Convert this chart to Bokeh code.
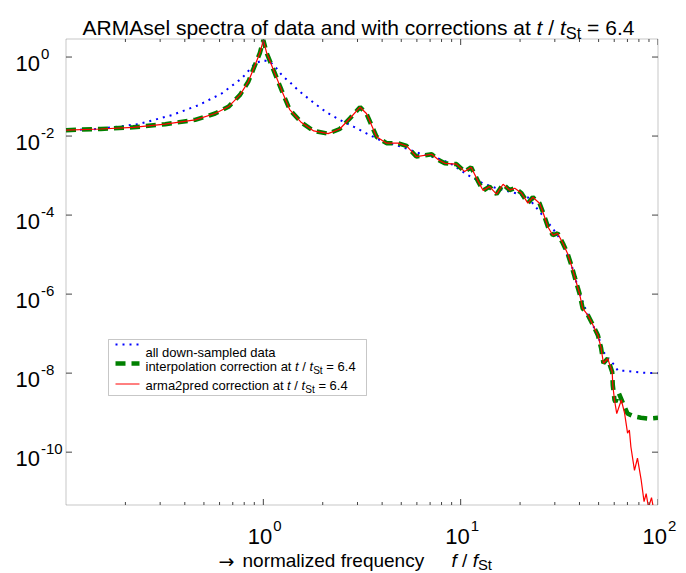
import math
from bokeh.plotting import figure
from bokeh.models import Range1d, Label, BoxAnnotation
from bokeh.embed import file_html
from bokeh.resources import INLINE

# ---------------- data ----------------
freq_blue = [0.10, 0.146, 0.233, 0.344, 0.469, 0.616, 0.777, 0.908, 1.00, 1.08,
             1.15, 1.26, 1.34, 1.50, 1.79, 2.09, 2.44, 2.86, 3.33, 3.89,
             4.55, 5.00, 6.20, 7.54, 8.80, 10.9, 13.0, 15.2, 19.2, 21.9,
             26.7, 30.5, 33.0, 36.5, 40.0, 44.1, 49.6, 52.0, 53.5, 55.6,
             58.0, 60.2, 62.6, 67.6, 76.0, 85.5, 100.0]
psd_blue = [1.41e-2, 1.51e-2, 2.00e-2, 3.39e-2, 6.03e-2, 0.120, 0.288, 0.692, 0.832, 0.759,
            0.562, 0.316, 0.251, 0.145, 7.08e-2, 3.98e-2, 2.57e-2, 1.74e-2, 1.17e-2, 7.94e-3,
            6.17e-3, 5.37e-3, 3.63e-3, 2.82e-3, 2.09e-3, 1.02e-3, 6.31e-4, 4.79e-4, 3.55e-4, 2.82e-4,
            8.32e-5, 3.47e-5, 1.91e-5, 5.37e-6, 1.05e-6, 2.95e-7, 9.12e-8, 4.47e-8, 3.16e-8, 2.34e-8,
            1.95e-8, 1.58e-8, 1.15e-8, 1.15e-8, 1.07e-8, 1.02e-8, 1.00e-8]

# part shared by both corrected spectra (up to f/fSt ~ 60)
freq_corr = [0.10, 0.15, 0.219, 0.318, 0.451, 0.570, 0.665, 0.762, 0.840, 0.908,
             0.960, 1.00, 1.04, 1.10, 1.24, 1.36, 1.56, 1.80, 2.13, 2.44,
             2.75, 3.09, 3.33, 3.75, 4.21, 4.82, 5.32, 5.96, 7.13, 7.77,
             8.31, 9.52, 10.48, 11.3, 12.3, 13.0, 14.0, 15.2, 16.4, 17.7,
             18.8, 20.3, 21.9, 23.2, 25.1, 26.1, 27.7, 29.3, 31.0, 33.0,
             34.8, 36.5, 37.8, 40.0, 41.5, 44.1, 46.8, 49.6, 51.5, 52.9,
             55.6, 58.6, 59.0, 60.2]
psd_corr = [1.41e-2, 1.51e-2, 1.66e-2, 2.00e-2, 2.57e-2, 3.72e-2, 5.50e-2, 0.110, 0.240, 0.631,
            1.26, 2.69, 1.26, 0.631, 0.141, 4.68e-2, 2.19e-2, 1.35e-2, 1.15e-2, 1.51e-2,
            2.82e-2, 5.37e-2, 3.72e-2, 9.55e-3, 6.61e-3, 6.61e-3, 5.62e-3, 3.02e-3, 3.47e-3, 2.45e-3,
            2.04e-3, 1.95e-3, 1.26e-3, 1.62e-3, 6.92e-4, 4.17e-4, 5.25e-4, 3.39e-4, 6.03e-4, 4.27e-4,
            4.79e-4, 3.63e-4, 2.00e-4, 2.82e-4, 2.00e-4, 1.20e-4, 5.01e-5, 3.09e-5, 3.47e-5, 1.91e-5,
            1.07e-5, 5.13e-6, 2.75e-6, 1.05e-6, 4.37e-7, 2.95e-7, 1.66e-7, 9.12e-8, 4.27e-8, 1.78e-8,
            2.34e-8, 1.07e-8, 5.01e-9, 2.09e-9]

freq_interp_tail = [60.9, 63.3, 66.6, 70.0, 75.0, 82.0, 90.0, 100.0]
psd_interp_tail = [1.86e-9, 3.09e-9, 1.70e-9, 9.55e-10, 8.13e-10, 7.41e-10, 7.08e-10, 7.41e-10]

freq_arma_tail = [61.8, 65.2, 67.7, 70.1, 71.6, 72.9, 76.0, 78.7, 82.2, 85.0,
                  87.1, 89.5, 92.7, 95.5, 100.0]
psd_arma_tail = [9.5e-10, 2.09e-9, 9.77e-10, 3.02e-10, 3.63e-10, 1.35e-10, 3.47e-11, 7.08e-11, 1.95e-11, 5.62e-12,
                 8.91e-12, 3.98e-12, 7.08e-12, 3.16e-12, 1.58e-12]

x_major_ticks = [1.0, 10.0, 100.0]
x_tick_exponents = ["0", "1", "2"]
x_minor_ticks = [0.2, 0.3, 0.4, 0.5, 0.6, 0.7, 0.8, 0.9,
                 2, 3, 4, 5, 6, 7, 8, 9,
                 20, 30, 40, 50, 60, 70, 80, 90]
y_major_ticks = [1e0, 1e-2, 1e-4, 1e-6, 1e-8, 1e-10]
y_tick_exponents = ["0", "-2", "-4", "-6", "-8", "-10"]

legend_labels = ["all down-sampled data", "interpolation correction at ", "arma2pred correction at "]

# ---------------- layout ----------------
X0, X1 = 0.1, 100.0          # axis limits of the plot box
Y0, Y1 = 4.6e-12, 2.86
W, H = 686, 573
FL, FT, FR, FB = 65.5, 38.5, 657.5, 504.5   # plot box edges in canvas pixels
FW, FH = FR - FL, FB - FT
FONT = "Liberation Sans"
AXC = "#444444"


def dx(px):
    lx0, lx1 = math.log10(X0), math.log10(X1)
    return 10 ** (lx0 + (px - FL) / FW * (lx1 - lx0))


def dy(py):
    ly0, ly1 = math.log10(Y0), math.log10(Y1)
    return 10 ** (ly1 - (py - FT) / FH * (ly1 - ly0))


# the Bokeh frame covers the whole canvas; the plot box is drawn inside it
p = figure(width=W, height=H, x_axis_type="log", y_axis_type="log",
           x_range=Range1d(dx(0), dx(W)), y_range=Range1d(dy(H), dy(0)),
           output_backend="svg", toolbar_location=None, title=None,
           x_axis_location=None, y_axis_location=None,
           min_border_left=0, min_border_right=0, min_border_top=0, min_border_bottom=0)
p.background_fill_color = "white"
p.border_fill_color = "white"
p.outline_line_color = None
p.grid.visible = False

# ---------------- legend box (below everything) ----------------
p.add_layout(BoxAnnotation(left=dx(108), right=dx(366), top=dy(339), bottom=dy(395),
                           fill_color="white", fill_alpha=1.0, line_color=AXC,
                           line_width=1, level="underlay"))

# ---------------- curves ----------------
p.line(freq_blue, psd_blue, line_color="#0000ff", line_width=2, line_dash="2 5")
p.line(freq_corr + freq_interp_tail, psd_corr + psd_interp_tail,
       line_color="#008000", line_width=4.5, line_dash="10 6")
p.line(freq_corr + freq_arma_tail, psd_corr + psd_arma_tail,
       line_color="#ff0000", line_width=1.2)

# masks that clip the curves to the plot box
p.add_layout(BoxAnnotation(left=dx(0), right=dx(W), top=Y0, bottom=dy(H),
                           fill_color="white", fill_alpha=1.0, line_color=None))
p.add_layout(BoxAnnotation(left=dx(0), right=dx(W), top=dy(0), bottom=Y1,
                           fill_color="white", fill_alpha=1.0, line_color=None))
p.add_layout(BoxAnnotation(left=X1, right=dx(W), top=dy(0), bottom=dy(H),
                           fill_color="white", fill_alpha=1.0, line_color=None))

# ---------------- plot box and ticks (inward, Matlab style) ----------------
p.add_layout(BoxAnnotation(left=X0, right=X1, bottom=Y0, top=Y1,
                           fill_color=None, line_color=AXC, line_width=1))
MAJ, MIN = 6, 3
xt_all = x_major_ticks + x_minor_ticks
xt_len = [MAJ] * len(x_major_ticks) + [MIN] * len(x_minor_ticks)
p.segment(x0=xt_all, x1=xt_all, y0=[Y0] * len(xt_all), y1=[dy(FB - L) for L in xt_len],
          line_color=AXC, line_width=1)
p.segment(x0=xt_all, x1=xt_all, y0=[Y1] * len(xt_all), y1=[dy(FT + L) for L in xt_len],
          line_color=AXC, line_width=1)
p.segment(x0=[X0] * len(y_major_ticks), x1=[dx(FL + MAJ)] * len(y_major_ticks),
          y0=y_major_ticks, y1=y_major_ticks, line_color=AXC, line_width=1)
p.segment(x0=[X1] * len(y_major_ticks), x1=[dx(FR - MAJ)] * len(y_major_ticks),
          y0=y_major_ticks, y1=y_major_ticks, line_color=AXC, line_width=1)

# ---------------- text helpers ----------------
AW = {' ': 278, '/': 278, '=': 584, '.': 278, '-': 333,
      'A': 667, 'M': 833, 'R': 722, 'S': 667,
      'a': 556, 'b': 556, 'c': 500, 'd': 556, 'e': 556, 'f': 278, 'g': 556, 'h': 556,
      'i': 222, 'j': 222, 'k': 500, 'l': 222, 'm': 833, 'n': 556, 'o': 556, 'p': 556,
      'q': 556, 'r': 333, 's': 500, 't': 278, 'u': 556, 'v': 500, 'w': 722, 'x': 500,
      'y': 500, 'z': 500}
for _d in "0123456789":
    AW[_d] = 556


def tw(s, size):
    return sum(AW.get(c, 556) for c in s) * size / 1000.0


def put(px, py, text, size, italic=False, align="left", font=FONT):
    p.add_layout(Label(x=dx(px), y=dy(py), text=text, text_font=font,
                       text_font_size=f"{size:.1f}px",
                       text_font_style="italic" if italic else "normal",
                       text_baseline="alphabetic", text_align=align, text_color="black"))


def rich(px, py, parts, size, center=False, sub_shift=0.27):
    sub = size * 0.78
    total = sum(tw(t, sub if k == "s" else size) for t, k in parts)
    if center:
        px -= total / 2
    for t, k in parts:
        fs = sub if k == "s" else size
        yy = py + size * sub_shift if k == "s" else py
        lead = len(t) - len(t.lstrip())
        px += lead * AW[' '] * fs / 1000.0
        body = t.lstrip()
        if body.strip():
            put(px, yy, body.rstrip(), fs, italic=(k == "i"))
        px += tw(body, fs)


def px_of_x(v):
    return FL + (math.log10(v) - math.log10(X0)) / (math.log10(X1) - math.log10(X0)) * FW


def py_of_y(v):
    return FT + (math.log10(Y1) - math.log10(v)) / (math.log10(Y1) - math.log10(Y0)) * FH


# title
rich(358, 27, [("ARMAsel spectra of data and with corrections at ", "n"), ("t", "i"),
               (" / ", "n"), ("t", "i"), ("St", "s"), (" = 6.4", "n")], 21, center=True)

# x-axis label
put(218, 560, "\u2192", 19, font="DejaVu Sans")
rich(242, 560, [("normalized frequency", "n")], 19)
rich(451, 560, [("f", "i"), (" / ", "n"), ("f", "i"), ("St", "s")], 19, sub_shift=0.22)

# tick labels
for v, e in zip(y_major_ticks, y_tick_exponents):
    ty = py_of_y(v)
    put(FL - 26, ty + 6, "10", 22, align="right")
    put(FL - 25, ty - 3, e, 15)
for v, e in zip(x_major_ticks, x_tick_exponents):
    tx = px_of_x(v)
    put(tx + 9, FB + 31, "10", 22, align="right")
    put(tx + 10, FB + 21, e, 15)

# ---------------- legend entries ----------------
p.line([dx(115), dx(139)], [dy(344), dy(344)], line_color="#0000ff", line_width=2, line_dash="2 5")
p.line([dx(115), dx(139)], [dy(363), dy(363)], line_color="#008000", line_width=4.5, line_dash="10 6")
p.line([dx(115), dx(139)], [dy(383.5), dy(383.5)], line_color="#ff0000", line_width=1)

rich(145, 352, [(legend_labels[0], "n")], 13)
rich(145, 366, [(legend_labels[1], "n"), ("t", "i"), (" / ", "n"), ("t", "i"), ("St", "s"),
                (" = 6.4", "n")], 13)
rich(145, 385, [(legend_labels[2], "n"), ("t", "i"), (" / ", "n"), ("t", "i"), ("St", "s"),
                (" = 6.4", "n")], 13)

open("out.html", "w").write(file_html(p, INLINE))
